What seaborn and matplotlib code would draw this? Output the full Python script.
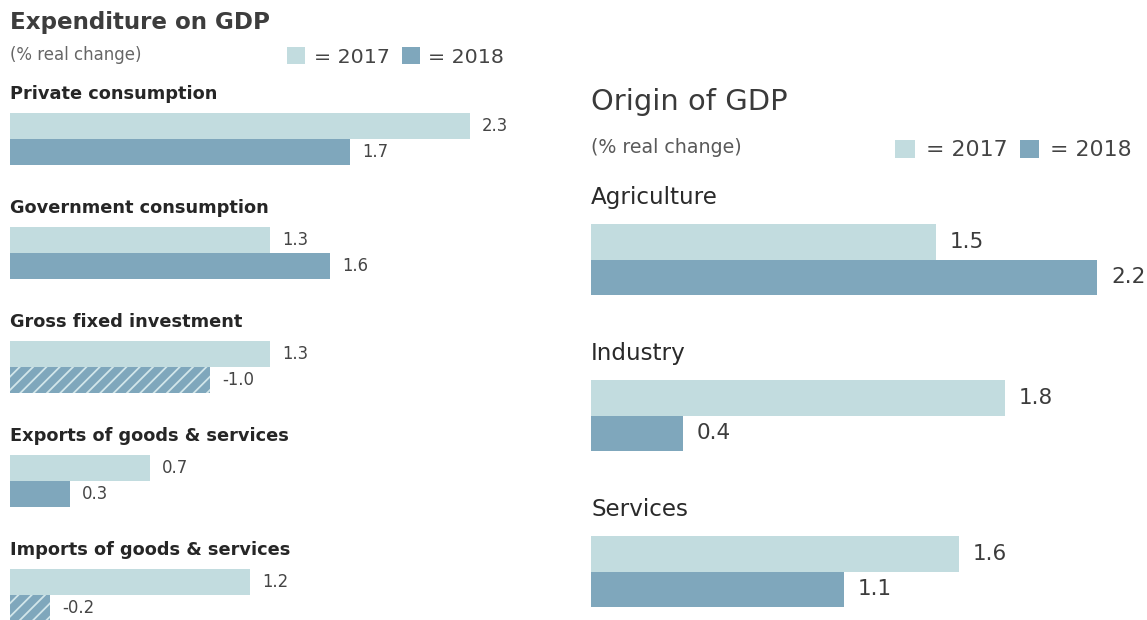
import numpy as np
import pandas as pd
import seaborn as sns
import matplotlib.pyplot as plt
from matplotlib.patches import Patch

# Data -------------------------------------------------------------------
years = ["2017", "2018"]

exp_categories = [
    "Private consumption",
    "Government consumption",
    "Gross fixed investment",
    "Exports of goods & services",
    "Imports of goods & services",
]
exp_2017 = [2.3, 1.3, 1.3, 0.7, 1.2]
exp_2018 = [1.7, 1.6, -1.0, 0.3, -0.2]

orig_categories = ["Agriculture", "Industry", "Services"]
orig_2017 = [1.5, 1.8, 1.6]
orig_2018 = [2.2, 0.4, 1.1]

# Styling ----------------------------------------------------------------
DPI = 80
W, H = 1147, 620
C17 = "#c2dcdf"
C18 = "#7fa7bc"
HATCH_LIGHT = "#d2e6ea"


def pt(px):
    """Convert a pixel size to points at the figure dpi."""
    return px * 72 / DPI


sns.set_theme(style="white")
plt.rcParams["font.family"] = ["DejaVu Sans"]
plt.rcParams["hatch.linewidth"] = pt(1.8)
plt.rcParams["hatch.color"] = HATCH_LIGHT

fig = plt.figure(figsize=(W / DPI, H / DPI), dpi=DPI)
fig.patch.set_facecolor("white")


def bar_panel(ax, cats, v17, v18, px_per_unit, left_px, right_px,
              first_center_px, spacing_px, label_rise_px, label_size,
              label_weight, value_size, value_gap_px, label_color,
              value_color):
    n = len(cats)
    df = pd.DataFrame({
        "category": cats * 2,
        "year": [years[0]] * n + [years[1]] * n,
        "change": list(v17) + list(v18),
    })
    df["length"] = df["change"].abs()

    sns.barplot(data=df, x="length", y="category", hue="year",
                hue_order=years, order=cats, palette=[C17, C18],
                orient="h", width=52 / 114, saturation=1, linewidth=0,
                errorbar=None, legend=False, ax=ax)

    ax.set_xlim(0, (right_px - left_px) / px_per_unit)
    ax.set_ylim((H - first_center_px) / spacing_px,
                -first_center_px / spacing_px)

    # negative changes: hatched bars of the same length
    for container, vals in zip(ax.containers, [v17, v18]):
        for bar, v in zip(container, vals):
            if v < 0:
                bar.set_hatch("//")
                bar.set_edgecolor(HATCH_LIGHT)
                bar.set_linewidth(0)
            ax.text(bar.get_width() + value_gap_px / px_per_unit,
                    bar.get_y() + bar.get_height() / 2,
                    f"{v:.1f}", va="center", ha="left",
                    fontsize=pt(value_size), color=value_color)

    for i, cat in enumerate(cats):
        ax.text(0, i - label_rise_px / spacing_px, cat, va="baseline",
                ha="left", fontsize=pt(label_size),
                fontweight=label_weight, color=label_color)

    ax.set_axis_off()


def year_legend(x_px, y_px, size_px, textpad, colspace):
    handles = [Patch(facecolor=C17, edgecolor="none"),
               Patch(facecolor=C18, edgecolor="none")]
    fig.legend(handles, [f"= {y}" for y in years], ncol=2,
               loc="center left",
               bbox_to_anchor=(x_px / W, 1 - y_px / H),
               frameon=False, fontsize=pt(size_px),
               handlelength=0.9, handleheight=0.9,
               handletextpad=textpad, columnspacing=colspace,
               borderpad=0, borderaxespad=0, labelcolor="#444444")


# Left panel: expenditure on GDP ---------------------------------------------
ax_l = fig.add_axes([10 / W, 0, 530 / W, 1])
bar_panel(ax_l, exp_categories, exp_2017, exp_2018,
          px_per_unit=200, left_px=10, right_px=540,
          first_center_px=139, spacing_px=114, label_rise_px=40,
          label_size=17.8, label_weight="bold", value_size=16.5,
          value_gap_px=12, label_color="#262626", value_color="#454545")

fig.text(10 / W, 1 - 29.5 / H, "Expenditure on GDP", va="baseline",
         fontsize=pt(23), fontweight="bold", color="#3d3d3d")
fig.text(10 / W, 1 - 60 / H, "(% real change)", va="baseline",
         fontsize=pt(16.6), color="#666666")
year_legend(287, 57, 20.5, 0.4, 0.6)

# Right panel: origin of GDP ---------------------------------------------
ax_r = fig.add_axes([591 / W, 0, (W - 591) / W, 1])
bar_panel(ax_r, orig_categories, orig_2017, orig_2018,
          px_per_unit=230, left_px=591, right_px=W,
          first_center_px=259.5, spacing_px=156, label_rise_px=55.5,
          label_size=23, label_weight="normal", value_size=21.5,
          value_gap_px=14, label_color="#2a2a2a", value_color="#3c3c3c")

fig.text(591 / W, 1 - 110 / H, "Origin of GDP", va="baseline",
         fontsize=pt(29), color="#3a3a3a")
fig.text(591 / W, 1 - 152.7 / H, "(% real change)", va="baseline",
         fontsize=pt(19), color="#5a5a5a")
year_legend(895, 150, 22, 0.5, 0.55)

fig.savefig("out.png", dpi=DPI, facecolor="white")
